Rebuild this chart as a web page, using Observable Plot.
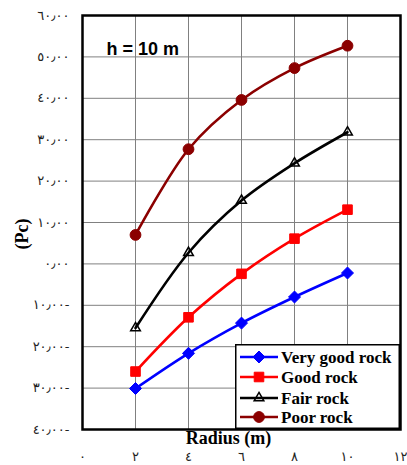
<!DOCTYPE html>
<html>
<head>
<meta charset="utf-8">
<script src="https://cdn.jsdelivr.net/npm/d3@7"></script>
<script src="https://cdn.jsdelivr.net/npm/@observablehq/plot@0.6"></script>
<style>
  html, body { margin: 0; padding: 0; background: #fff; }
  #chart { position: relative; width: 407px; height: 465px; }
  #legend { position: absolute; left: 235px; top: 344px; }
</style>
</head>
<body>
<div id="chart"></div>
<script>
// Radius of the opening (m)
const radius = [2, 4, 6, 8, 10];

// Pc values for each rock class
const veryGoodRock = [-30.1, -21.6, -14.3, -8.0, -2.2];
const goodRock = [-26.0, -12.9, -2.4, 6.1, 13.1];
const fairRock = [-15.5, 2.7, 15.3, 24.3, 31.8];
const poorRock = [7.0, 27.7, 39.6, 47.3, 52.7];

// Axis ticks
const xTicks = [0, 2, 4, 6, 8, 10, 12];
const yTicks = [-40, -30, -20, -10, 0, 10, 20, 30, 40, 50, 60];

const seriesNames = ["Very good rock", "Good rock", "Fair rock", "Poor rock"];
const seriesValues = [veryGoodRock, goodRock, fairRock, poorRock];
const seriesColors = ["#0000ff", "#ff0000", "#000000", "#8b0000"];
const seriesSymbols = ["diamond2", "square", "triangle", "circle"];
const seriesSizes = [5.4, 5.4, 3.6, 5.4];
const seriesFills = ["#0000ff", "#ff0000", "none", "#8b0000"];

const rows = seriesNames.flatMap((name, i) =>
  radius.map((r, j) => ({series: name, idx: i, radius: r, pc: seriesValues[i][j]}))
);

// Arabic-Indic digits
const arabicDigits = "٠١٢٣٤٥٦٧٨٩";
const toArabic = s => String(s).replace(/\d/g, d => arabicDigits[+d]).replace(".", "٫");
const fmtY = v => toArabic(Math.abs(v).toFixed(2)) + (v < 0 ? "-" : "");
const fmtX = v => toArabic(v);

const serif = "'Liberation Serif', 'Times New Roman', serif";

const marks = [
  Plot.gridX(xTicks, {stroke: "#808080", strokeOpacity: 1, strokeWidth: 1}),
  Plot.gridY(yTicks, {stroke: "#808080", strokeOpacity: 1, strokeWidth: 1}),
];

seriesNames.forEach((name, i) => {
  const data = rows.filter(d => d.idx === i);
  marks.push(
    Plot.line(data, {x: "radius", y: "pc", stroke: seriesColors[i], strokeWidth: 2.6, curve: "catmull-rom"}),
    Plot.dot(data, {
      x: "radius", y: "pc", symbol: () => seriesSymbols[i], r: seriesSizes[i],
      fill: seriesFills[i], stroke: seriesColors[i], strokeWidth: i === 2 ? 1.5 : 1
    })
  );
});

marks.push(
  Plot.frame({stroke: "#000", strokeWidth: 2.5}),
  Plot.axisY(yTicks, {
    tickSize: 0, tickPadding: 13, tickFormat: fmtY, label: null,
    fontSize: 13, fontFamily: "'DejaVu Sans', sans-serif", fill: "#222"
  }),
  Plot.axisX(xTicks, {
    tickSize: 0, tickPadding: 22, tickFormat: fmtX, label: null,
    fontSize: 13, fontFamily: "'DejaVu Sans', sans-serif", fill: "#222"
  }),
  Plot.text(["h = 10 m"], {
    frameAnchor: "top-left", dx: 24, dy: 27, text: d => d, textAnchor: "start",
    fontSize: 18, fontWeight: "bold", fontFamily: "'Liberation Sans', Arial, sans-serif", fill: "#000"
  }),
  Plot.text(["(Pc)"], {
    frameAnchor: "left", dx: -60, dy: 27, rotate: -90, text: d => d,
    fontSize: 18, fontWeight: "bold", fontFamily: serif, fill: "#000"
  }),
  Plot.text(["Radius (m)"], {
    frameAnchor: "bottom", dx: -13, dy: 9, text: d => d, lineAnchor: "middle",
    fontSize: 18, fontWeight: "bold", fontFamily: serif, fill: "#000"
  })
);

const chart = Plot.plot({
  width: 407,
  height: 465,
  marginLeft: 82,
  marginRight: 7,
  marginTop: 15,
  marginBottom: 36,
  x: {domain: [0, 12], axis: null},
  y: {domain: [-40, 60], axis: null},
  style: {background: "#fff", overflow: "visible"},
  marks
});
document.getElementById("chart").appendChild(chart);

// Wider digit spacing on the tick labels
d3.select(chart).selectAll("g[aria-label='y-axis tick label'] text")
  .style("letter-spacing", "3px");
d3.select(chart).selectAll("g[aria-label='x-axis tick label'] text")
  .style("letter-spacing", "2px");

// Legend box drawn over the lower-right of the plot area
const lg = d3.select("#chart").append("svg")
  .attr("id", "legend")
  .attr("width", 165)
  .attr("height", 85);
lg.append("rect")
  .attr("x", 0.75).attr("y", 0.75).attr("width", 163.5).attr("height", 83.5)
  .attr("fill", "#fff").attr("stroke", "#000").attr("stroke-width", 1.5);
const rowY = [13, 33, 54, 73];
seriesNames.forEach((name, i) => {
  const g = lg.append("g").attr("transform", `translate(0,${rowY[i]})`);
  g.append("line").attr("x1", 5).attr("x2", 43).attr("y1", 0).attr("y2", 0)
    .attr("stroke", seriesColors[i]).attr("stroke-width", 2.5);
  const sym = {diamond2: d3.symbolDiamond2, square: d3.symbolSquare, triangle: d3.symbolTriangle, circle: d3.symbolCircle}[seriesSymbols[i]];
  g.append("path")
    .attr("transform", "translate(24,0)")
    .attr("d", d3.symbol(sym, Math.PI * seriesSizes[i] * seriesSizes[i])())
    .attr("fill", seriesFills[i] === "none" ? "none" : seriesFills[i])
    .attr("stroke", seriesColors[i]).attr("stroke-width", i === 2 ? 1.5 : 1);
  g.append("text").attr("x", 46).attr("y", 0).attr("dy", "0.35em")
    .attr("font-family", serif).attr("font-weight", "bold").attr("font-size", 17)
    .text(name);
});
</script>
</body>
</html>
